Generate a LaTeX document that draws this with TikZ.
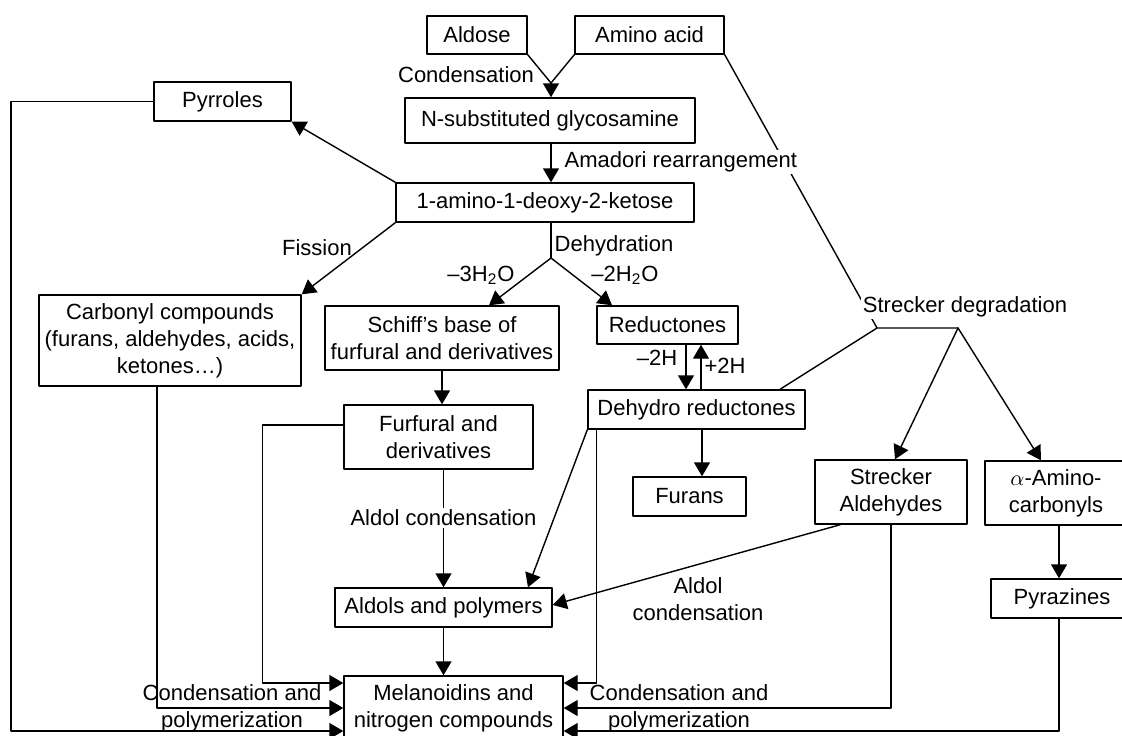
\documentclass[tikz,border=0pt]{standalone}
\usepackage{fontspec}
\setmainfont{Liberation Sans}
\usetikzlibrary{arrows.meta}

\begin{document}
\begin{tikzpicture}[x=0.5pt,y=-0.5pt,line join=round,line cap=round,line width=0.7pt,
		>={Triangle[length=7pt,width=8pt]},font=\fontsize{11}{13.5}\selectfont,
		box/.style={draw,align=center,inner sep=0pt},
		lbl/.style={align=center,inner sep=1pt}]
			\def \hs{19.5pt};
			\def \hd{32pt};
			\useasboundingbox (0,0) rectangle (1122,735);
			\node[box,minimum width=50pt,minimum height=19pt] (aldose) at (477,35) {Aldose};
			\node[box,minimum width=74.5pt,minimum height=19pt] (amino) at (649.5,35) {Amino acid};
			\node[box,minimum width=145pt,minimum height=22.5pt] (glyco) at (550,120.5) {N-substituted glycosamine};
			\node[box,minimum width=149pt,minimum height=\hs] (ketose) at (545,202.5) {1-amino-1-deoxy-2-ketose};
			\node[box,minimum width=68.5pt,minimum height=\hs] (pyrroles) at (222.5,101.5) {Pyrroles};
			\node[box,minimum width=131pt,minimum height=45.5pt] (carbonyl) at (170,340.5) {Carbonyl compounds\\(furans, aldehydes, acids,\\ketones\dots)};
			\node[box,minimum width=117pt,minimum height=\hd] (schiff) at (442,338) {Schiff's base of\\furfural and derivatives};
			\node[box,minimum width=70.5pt,minimum height=19pt] (reduct) at (667.5,325) {Reductones};
			\node[box,minimum width=108.5pt,minimum height=\hs] (dehydro) at (696.5,409.5) {Dehydro reductones};
			\node[box,minimum width=94.5pt,minimum height=\hd] (furfural) at (438.5,437) {Furfural and\\derivatives};
			\node[box,minimum width=56.5pt,minimum height=\hs] (furans) at (689.5,496.5) {Furans};
			\node[box,minimum width=76pt,minimum height=\hd] (stralde) at (891,492) {Strecker\\Aldehydes};
			\node[box,minimum width=71pt,minimum height=\hd] (aminocarb) at (1056,493) {$\alpha$-Amino-\\carbonyls};
			\node[box,minimum width=71pt,minimum height=\hs] (pyrazines) at (1062,598.5) {Pyrazines};
			\node[box,minimum width=108.5pt,minimum height=\hs] (aldols) at (443.5,607.5) {Aldols and polymers};
			\node[box,minimum width=109.5pt,minimum height=\hd] (melan) at (453.5,708) {Melanoidins and\\nitrogen compounds};
			\coordinate (cond) at (551,83);
			\coordinate (fork) at (551,258);
			\coordinate (sdl) at (877,328);
			\coordinate (sdr) at (958,328);
			\coordinate (rail) at (11,0);
			\draw (aldose.south east) -- (cond) -- (amino.south west);
			\draw[->] (cond) -- (cond |- glyco.north);
			\node[lbl] (condlbl) at (466,75) {Condensation};
			\draw (amino.south east) -- (sdl) -- (sdr);
			\draw[->] (cond |- glyco.south) -- (cond |- ketose.north);
			\node[lbl,fill=white,anchor=west] (amadori) at (562,162) {Amadori rearrangement};
			\node[lbl,fill=white] (strecker) at (965,307) {Strecker degradation};
			\draw[->] (ketose.north west) -- (pyrroles.south east);
			\draw[->] (ketose.south west) -- (carbonyl.north east);
			\node[lbl] (fission) at (317,248) {Fission};
			\draw (fork |- ketose.south) -- (fork);
			\node[lbl,anchor=west] (dehyd) at (552,246) {Dehydration};
			\draw[->] (fork) -- ([xshift=23.5pt]schiff.north);
			\draw[->] (fork) -- ([xshift=-27.75pt]reduct.north);
			\node[lbl] (minusthree) at (481,275) {–3H\textsubscript{2}O};
			\node[lbl] (minustwo) at (625,275) {–2H\textsubscript{2}O};
			\draw[->] (schiff.south) -- (schiff.south |- furfural.north);
			\draw[->] (aldols.north |- furfural.south) -- node[lbl,fill=white,pos=0.41] (aldolc) {Aldol condensation} (aldols.north);
			\draw[->] (aldols.south) -- (aldols.south |- melan.north);
			\draw[->] ([xshift=9.25pt]reduct.south) -- ([xshift=9.25pt]reduct.south |- dehydro.north);
			\draw[<-] ([xshift=16.75pt]reduct.south) -- ([xshift=16.75pt]reduct.south |- dehydro.north);
			\node[lbl] (lossh) at (657,358) {–2H};
			\node[lbl] (gainh) at (725,366) {+2H};
			\draw[->] ([xshift=2.75pt]dehydro.south) -- ([xshift=2.75pt]dehydro.south |- furans.north);
			\draw[->] (dehydro.south west) -- ([xshift=42.25pt]aldols.north);
			\draw[->] ([xshift=4.5pt]dehydro.south west) |- ([yshift=12.5pt]melan.east);
			\draw (sdl) -- ([xshift=41.75pt]dehydro.north);
			\draw[->] (sdr) -- ([xshift=2pt]stralde.north);
			\draw[->] (sdr) -- ([xshift=-7.5pt]aminocarb.north);
			\draw[->] ([xshift=-1.5pt]pyrazines.north |- aminocarb.south) -- ([xshift=-1.5pt]pyrazines.north);
			\draw[->] ([xshift=-1.5pt]pyrazines.south) |- ([yshift=-11.5pt]melan.east);
			\draw[->] (stralde.south) |- (melan.east);
			\draw[->] ([xshift=13pt]stralde.south west) -- ([yshift=1.25pt]aldols.east);
			\node[lbl] (aldolr) at (698,599) {Aldol\\condensation};
			\draw[->] (pyrroles.west) -- (pyrroles.west -| rail) |- ([yshift=-11.5pt]melan.west);
			\draw[->] ([xshift=-6.5pt]carbonyl.south) |- (melan.west);
			\draw[->] ([yshift=6pt]furfural.west) -- ++(-81,0) |- ([yshift=12.5pt]melan.west);
			\node[lbl] (condpl) at (232,708) {Condensation and\\polymerization};
			\node[lbl] (condpr) at (679,708) {Condensation and\\polymerization};
		\end{tikzpicture}
\end{document}
